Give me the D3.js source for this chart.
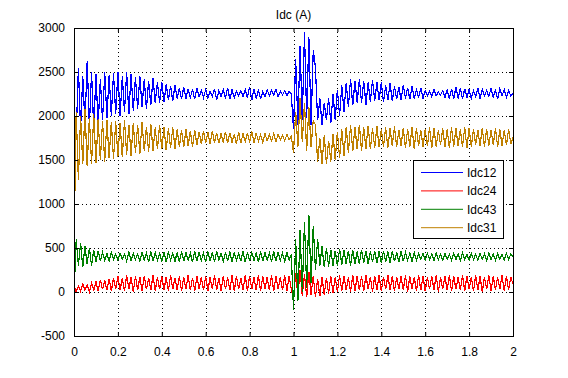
<!DOCTYPE html>
<html>
<head>
<meta charset="utf-8">
<script src="https://cdn.jsdelivr.net/npm/d3@7"></script>
<style>
  body { margin: 0; background: #fff; }
  text { font-family: "Liberation Sans", Arial, sans-serif; }
</style>
</head>
<body>
<div id="chart"></div>
<script>
// frame and plot box
const FRAME_WIDTH = 568;
const FRAME_HEIGHT = 378;
const MARGINS = {left: 74, right: 55, top: 28, bottom: 42};
const VIS_WIDTH = FRAME_WIDTH - MARGINS.left - MARGINS.right;
const VIS_HEIGHT = FRAME_HEIGHT - MARGINS.top - MARGINS.bottom;

// sample step of the recorded signals (s)
const DT = 0.01;

const seriesNames = ["Idc12", "Idc24", "Idc43", "Idc31"];
const seriesColors = ["#0000ff", "#ff0000", "#008000", "#bf8000"];
const xTicks = [0, 0.2, 0.4, 0.6, 0.8, 1, 1.2, 1.4, 1.6, 1.8, 2];
const yTicks = [-500, 0, 500, 1000, 1500, 2000, 2500, 3000];

// values, one every DT seconds (10 per row)
const idc12 = [
  2100, 1780, 2550, 1850, 2450, 1900, 2620, 1880, 2500, 1850,
  2480, 1900, 2420, 1950, 2500, 1980, 2460, 2000, 2490, 2020,
  2500, 2000, 2450, 2050, 2500, 2020, 2480, 2060, 2440, 2080,
  2450, 2100, 2420, 2080, 2400, 2120, 2430, 2150, 2380, 2150,
  2380, 2160, 2360, 2180, 2340, 2170, 2350, 2200, 2320, 2190,
  2330, 2200, 2310, 2210, 2300, 2190, 2320, 2220, 2290, 2210,
  2300, 2200, 2280, 2220, 2310, 2180, 2290, 2220, 2300, 2200,
  2320, 2190, 2300, 2210, 2280, 2230, 2290, 2220, 2300, 2210,
  2330, 2180, 2310, 2200, 2300, 2190, 2280, 2220, 2300, 2230,
  2290, 2240, 2300, 2220, 2280, 2240, 2290, 2230, 2280, 2250,
  1850, 2650, 1900, 2800, 1950, 2950, 1980, 2900, 1900, 2750,
  2550, 1950, 2200, 1900, 2150, 1950, 2200, 1920, 2250, 1960,
  2300, 2000, 2350, 2050, 2380, 2100, 2420, 2120, 2400, 2150,
  2420, 2150, 2400, 2130, 2380, 2160, 2410, 2170, 2380, 2180,
  2380, 2160, 2350, 2180, 2370, 2170, 2340, 2190, 2330, 2180,
  2350, 2200, 2320, 2190, 2340, 2200, 2300, 2210, 2320, 2200,
  2290, 2230, 2280, 2220, 2300, 2230, 2270, 2240, 2290, 2210,
  2300, 2200, 2310, 2190, 2330, 2200, 2320, 2190, 2310, 2210,
  2300, 2200, 2290, 2220, 2320, 2200, 2300, 2230, 2290, 2220,
  2320, 2210, 2300, 2190, 2310, 2230, 2300, 2210, 2290, 2230,
  2260
];

const idc24 = [
  80, 0, 70, 10, 90, 20, 80, 0, 100, 20,
  120, 10, 140, 30, 130, 20, 150, 10, 160, 30,
  180, 20, 160, 10, 190, 30, 170, 0, 180, 20,
  170, 10, 180, 30, 160, 20, 190, 10, 170, 30,
  180, 20, 170, 10, 190, 30, 160, 20, 180, 10,
  170, 30, 190, 20, 160, 10, 180, 30, 170, 20,
  180, 10, 170, 30, 190, 20, 160, 10, 180, 30,
  170, 20, 190, 10, 180, 30, 160, 20, 190, 10,
  180, 30, 170, 20, 190, 10, 180, 30, 170, 20,
  190, 10, 180, 30, 170, 20, 190, 10, 180, 30,
  -70, 220, -50, 250, -40, 200, -60, 230, -30, 180,
  -60, 150, -50, 170, -30, 160, -20, 180, -10, 170,
  0, 190, 10, 180, 20, 170, 0, 190, 10, 180,
  20, 180, 10, 190, 30, 170, 0, 180, 20, 190,
  10, 170, 30, 190, 20, 180, 10, 170, 30, 180,
  20, 190, 0, 180, 30, 170, 10, 190, 20, 180,
  10, 170, 30, 180, 20, 190, 0, 170, 30, 180,
  20, 190, 10, 180, 30, 170, 20, 190, 10, 180,
  30, 170, 10, 190, 20, 180, 0, 170, 30, 190,
  10, 180, 20, 170, 30, 190, 10, 180, 20, 170,
  90
];

const idc43 = [
  -50, 600, 300, 560, 280, 520, 320, 500, 300, 480,
  340, 470, 350, 450, 360, 440, 350, 450, 370, 430,
  360, 440, 370, 430, 350, 450, 360, 440, 370, 430,
  350, 450, 360, 440, 340, 460, 350, 450, 360, 440,
  350, 450, 340, 460, 360, 440, 350, 450, 340, 460,
  350, 450, 360, 440, 340, 460, 350, 450, 360, 440,
  340, 460, 350, 450, 340, 460, 360, 440, 350, 450,
  350, 460, 340, 450, 360, 440, 350, 460, 340, 450,
  350, 450, 360, 440, 340, 460, 350, 450, 360, 440,
  340, 460, 350, 450, 360, 440, 350, 450, 360, 430,
  -200, 600, -100, 700, 0, 800, 50, 880, 100, 750,
  250, 600, 300, 520, 280, 500, 290, 480, 300, 470,
  300, 490, 310, 480, 320, 470, 300, 480, 320, 460,
  320, 480, 330, 470, 320, 460, 340, 470, 330, 460,
  330, 470, 340, 460, 330, 470, 350, 450, 340, 460,
  350, 450, 360, 440, 350, 450, 360, 440, 370, 440,
  360, 440, 370, 430, 360, 440, 370, 430, 360, 440,
  370, 430, 360, 440, 370, 430, 360, 440, 370, 430,
  360, 440, 370, 430, 360, 440, 370, 430, 360, 440,
  370, 430, 360, 440, 370, 430, 360, 440, 370, 430,
  400
];

const idc31 = [
  500, 2050, 1270, 2000, 1450, 2080, 1430, 1980, 1460, 2020,
  1470, 1960, 1500, 1940, 1480, 1950, 1520, 1930, 1510, 1940,
  1540, 1920, 1530, 1950, 1560, 1900, 1550, 1920, 1580, 1900,
  1570, 1930, 1600, 1880, 1590, 1910, 1600, 1870, 1620, 1900,
  1620, 1880, 1610, 1860, 1640, 1870, 1630, 1850, 1650, 1840,
  1650, 1850, 1660, 1830, 1650, 1840, 1670, 1820, 1680, 1830,
  1690, 1820, 1680, 1830, 1700, 1810, 1690, 1800, 1700, 1820,
  1690, 1810, 1700, 1790, 1680, 1820, 1690, 1800, 1710, 1810,
  1700, 1830, 1690, 1810, 1710, 1790, 1700, 1800, 1720, 1790,
  1720, 1800, 1710, 1790, 1730, 1780, 1720, 1790, 1730, 1770,
  1580, 2050, 1650, 2200, 1700, 2150, 1600, 2100, 1650, 1950,
  1900, 1480, 1750, 1460, 1780, 1450, 1720, 1480, 1800, 1500,
  1820, 1520, 1850, 1550, 1880, 1580, 1900, 1600, 1880, 1620,
  1900, 1600, 1870, 1630, 1890, 1620, 1860, 1640, 1880, 1650,
  1850, 1650, 1870, 1640, 1860, 1660, 1880, 1650, 1840, 1660,
  1860, 1640, 1850, 1650, 1870, 1630, 1860, 1660, 1840, 1650,
  1850, 1660, 1870, 1640, 1860, 1650, 1840, 1670, 1860, 1650,
  1850, 1640, 1870, 1650, 1860, 1660, 1850, 1650, 1870, 1640,
  1860, 1650, 1850, 1670, 1840, 1660, 1860, 1650, 1850, 1660,
  1840, 1670, 1860, 1650, 1850, 1660, 1840, 1670, 1850, 1680,
  1760
];

const seriesValues = [idc12, idc24, idc43, idc31];

const FRAME = d3.select("#chart")
  .append("svg")
    .attr("width", FRAME_WIDTH)
    .attr("height", FRAME_HEIGHT);

const X_SCALE = d3.scaleLinear().domain([0, 2]).range([0, VIS_WIDTH]);
const Y_SCALE = d3.scaleLinear().domain([-500, 3000]).range([VIS_HEIGHT, 0]);

const plot = FRAME.append("g")
  .attr("transform", "translate(" + MARGINS.left + "," + MARGINS.top + ")");

// dotted grid
plot.append("g").selectAll("line")
  .data(xTicks.slice(1, -1))
  .enter().append("line")
    .attr("x1", d => Math.round(X_SCALE(d)) + 0.5)
    .attr("x2", d => Math.round(X_SCALE(d)) + 0.5)
    .attr("y1", 0).attr("y2", VIS_HEIGHT)
    .attr("stroke", "#000").attr("stroke-dasharray", "1,3");

plot.append("g").selectAll("line")
  .data(yTicks.slice(1, -1))
  .enter().append("line")
    .attr("y1", d => Math.round(Y_SCALE(d)) + 0.5)
    .attr("y2", d => Math.round(Y_SCALE(d)) + 0.5)
    .attr("x1", 0).attr("x2", VIS_WIDTH)
    .attr("stroke", "#000").attr("stroke-dasharray", "1,3");

// signals, clipped to the plot box, drawn without smoothing like the original
FRAME.append("clipPath").attr("id", "clip")
  .append("rect").attr("width", VIS_WIDTH).attr("height", VIS_HEIGHT);

const line = d3.line()
  .x((d, i) => X_SCALE(i * DT))
  .y(d => Y_SCALE(d));

plot.append("g").attr("clip-path", "url(#clip)")
  .selectAll("path")
  .data(seriesValues)
  .enter().append("path")
    .attr("d", d => line(d))
    .attr("fill", "none")
    .attr("stroke", (d, i) => seriesColors[i])
    .attr("stroke-width", 1.2)
    .attr("shape-rendering", "crispEdges");

// axes with inward ticks on all sides
const fmt = d => String(d);
plot.append("g")
  .attr("transform", "translate(0," + VIS_HEIGHT + ")")
  .call(d3.axisBottom(X_SCALE).tickValues(xTicks).tickFormat(fmt).tickSizeInner(-4).tickSizeOuter(0).tickPadding(11));
plot.append("g")
  .call(d3.axisTop(X_SCALE).tickValues(xTicks).tickFormat("").tickSizeInner(-4).tickSizeOuter(0));
plot.append("g")
  .call(d3.axisLeft(Y_SCALE).tickValues(yTicks).tickFormat(fmt).tickSizeInner(-4).tickSizeOuter(0).tickPadding(9));
plot.append("g")
  .attr("transform", "translate(" + VIS_WIDTH + ",0)")
  .call(d3.axisRight(Y_SCALE).tickValues(yTicks).tickFormat("").tickSizeInner(-4).tickSizeOuter(0));

plot.selectAll(".tick text")
  .attr("font-family", "'Liberation Sans', Arial, sans-serif")
  .attr("font-size", "12px")
  .attr("fill", "#000");
plot.selectAll(".domain").remove();

plot.append("rect")
  .attr("x", 0.5).attr("y", 0.5)
  .attr("width", VIS_WIDTH).attr("height", VIS_HEIGHT)
  .attr("fill", "none").attr("stroke", "#000");

// title
FRAME.append("text")
  .attr("x", MARGINS.left + VIS_WIDTH / 2)
  .attr("y", 19)
  .attr("text-anchor", "middle")
  .attr("font-size", "12px")
  .text("Idc (A)");

// legend
const legend = FRAME.append("g").attr("transform", "translate(413,160)");
legend.append("rect")
  .attr("x", 0.5).attr("y", 0.5)
  .attr("width", 90).attr("height", 78)
  .attr("fill", "#fff").attr("stroke", "#000");

const rows = legend.selectAll("g.row")
  .data(seriesNames)
  .enter().append("g")
    .attr("class", "row")
    .attr("transform", (d, i) => "translate(0," + (12.5 + i * 18.4) + ")");
rows.append("line")
  .attr("x1", 8).attr("x2", 50)
  .attr("stroke", (d, i) => seriesColors[i]);
rows.append("text")
  .attr("x", 54).attr("y", 4.5)
  .attr("font-size", "12px")
  .text(d => d);
</script>
</body>
</html>
